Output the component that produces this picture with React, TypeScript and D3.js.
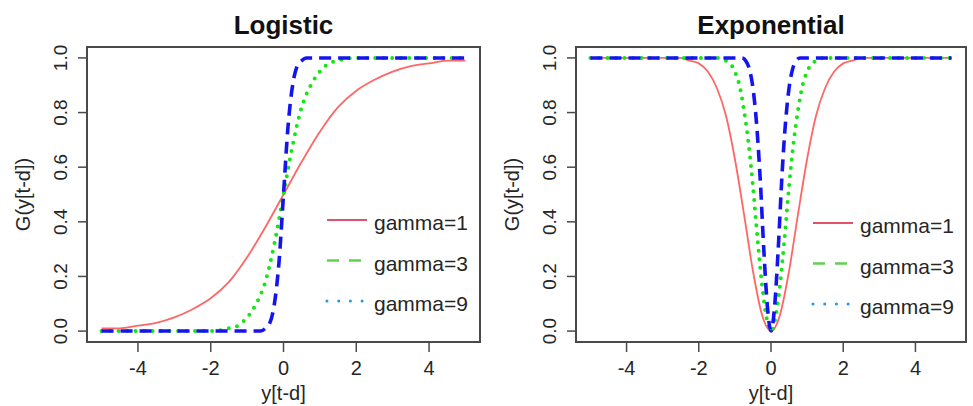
import React, { useRef, useEffect } from "react";
import * as d3 from "d3";

// values
const xTicks = [-4, -2, 0, 2, 4];
const yTicks = [0, 0.2, 0.4, 0.6, 0.8, 1.0];
const legendLabels = ["gamma=1", "gamma=3", "gamma=9"];

const logisticGamma1: [number, number][] = [
  [-5, 0.01], [-4.5, 0.01], [-4, 0.02], [-3.5, 0.03], [-3, 0.05], [-2.5, 0.08],
  [-2, 0.12], [-1.5, 0.18], [-1, 0.27], [-0.5, 0.38], [0, 0.5], [0.5, 0.62],
  [1, 0.73], [1.5, 0.82], [2, 0.88], [2.5, 0.92], [3, 0.95], [3.5, 0.97],
  [4, 0.98], [4.5, 0.99], [5, 0.99],
];
const logisticGamma3: [number, number][] = [
  [-5, 0], [-2, 0], [-1.5, 0.01], [-1.25, 0.02], [-1, 0.05], [-0.75, 0.1],
  [-0.5, 0.18], [-0.25, 0.32], [0, 0.5], [0.25, 0.68], [0.5, 0.82], [0.75, 0.9],
  [1, 0.95], [1.25, 0.98], [1.5, 0.99], [2, 1], [5, 1],
];
const logisticGamma9: [number, number][] = [
  [-5, 0], [-1, 0], [-0.625, 0], [-0.5, 0.01], [-0.375, 0.03], [-0.25, 0.1],
  [-0.125, 0.25], [0, 0.5], [0.125, 0.75], [0.25, 0.9], [0.375, 0.97],
  [0.5, 0.99], [0.625, 1], [1, 1], [5, 1],
];

const expGamma1: [number, number][] = [
  [-5, 1], [-4, 1], [-3, 1], [-2.5, 1], [-2.25, 0.99], [-2, 0.98], [-1.75, 0.95],
  [-1.5, 0.89], [-1.25, 0.79], [-1, 0.63], [-0.75, 0.43], [-0.5, 0.22],
  [-0.25, 0.06], [0, 0], [0.25, 0.06], [0.5, 0.22], [0.75, 0.43], [1, 0.63],
  [1.25, 0.79], [1.5, 0.89], [1.75, 0.95], [2, 0.98], [2.25, 0.99], [2.5, 1],
  [3, 1], [4, 1], [5, 1],
];
const expGamma3: [number, number][] = [
  [-5, 1], [-1.5, 1], [-1.25, 0.99], [-1, 0.95], [-0.875, 0.9], [-0.75, 0.81],
  [-0.625, 0.69], [-0.5, 0.53], [-0.375, 0.34], [-0.25, 0.17], [-0.125, 0.05],
  [0, 0], [0.125, 0.05], [0.25, 0.17], [0.375, 0.34], [0.5, 0.53], [0.625, 0.69],
  [0.75, 0.81], [0.875, 0.9], [1, 0.95], [1.25, 0.99], [1.5, 1], [5, 1],
];
const expGamma9: [number, number][] = [
  [-5, 1], [-0.8, 1], [-0.7, 0.99], [-0.6, 0.96], [-0.5, 0.89], [-0.4, 0.76],
  [-0.3, 0.56], [-0.2, 0.3], [-0.1, 0.09], [0, 0], [0.1, 0.09], [0.2, 0.3],
  [0.3, 0.56], [0.4, 0.76], [0.5, 0.89], [0.6, 0.96], [0.7, 0.99], [0.8, 1],
  [5, 1],
];

const FONT = "'Liberation Sans', Arial, sans-serif";
const INK = "#262626";

// curve styles (the plot uses other styles than its own legend)
const curveStyles = [
  { color: "#ff6666", width: 1.8, dash: null, cap: "butt" },
  { color: "#14e614", width: 4, dash: "0 8.5", cap: "round" },
  { color: "#1414f0", width: 3.6, dash: "12 7", cap: "butt" },
];
const legendStyles = [
  { color: "#df536b", width: 2.2, dash: null, cap: "butt" },
  { color: "#61d04f", width: 2.6, dash: "12 10", cap: "butt" },
  { color: "#2297e6", width: 3, dash: "0 11.7", cap: "round" },
];

function drawPanel(svg, title, series, box, legendTop) {
  const x = d3.scaleLinear().domain([-5.4, 5.4]).range([box.left, box.right]);
  const y = d3.scaleLinear().domain([-0.04, 1.04]).range([box.bottom, box.top]);
  const g = svg.append("g");
  const cx = (box.left + box.right) / 2;

  const line = d3.line<[number, number]>()
    .x(d => x(d[0]))
    .y(d => y(d[1]))
    .curve(d3.curveMonotoneX);

  series.forEach((s, i) => {
    const st = curveStyles[i];
    g.append("path")
      .attr("d", line(s))
      .attr("fill", "none")
      .attr("stroke", st.color)
      .attr("stroke-width", st.width)
      .attr("stroke-linecap", st.cap)
      .attr("stroke-dasharray", st.dash);
  });

  // box
  g.append("rect")
    .attr("x", box.left).attr("y", box.top)
    .attr("width", box.right - box.left).attr("height", box.bottom - box.top)
    .attr("fill", "none").attr("stroke", "#4a4a4a").attr("stroke-width", 2);

  // x axis
  g.selectAll(".xt").data(xTicks).enter().append("line")
    .attr("x1", d => x(d)).attr("x2", d => x(d))
    .attr("y1", box.bottom).attr("y2", box.bottom + 10)
    .attr("stroke", "#4a4a4a").attr("stroke-width", 1.5);
  g.selectAll(".xl").data(xTicks).enter().append("text")
    .attr("x", d => x(d)).attr("y", 375)
    .attr("text-anchor", "middle")
    .attr("font-family", FONT).attr("font-size", 20).attr("fill", INK)
    .text(d => String(d));

  // y axis
  g.selectAll(".yt").data(yTicks).enter().append("line")
    .attr("x1", box.left).attr("x2", box.left - 9)
    .attr("y1", d => y(d)).attr("y2", d => y(d))
    .attr("stroke", "#4a4a4a").attr("stroke-width", 1.5);
  g.selectAll(".yl").data(yTicks).enter().append("text")
    .attr("transform", d => `translate(${box.left - 20},${y(d)}) rotate(-90)`)
    .attr("text-anchor", "middle")
    .attr("font-family", FONT).attr("font-size", 19).attr("fill", INK)
    .text(d => d.toFixed(1));

  // titles
  g.append("text")
    .attr("x", cx).attr("y", 34)
    .attr("text-anchor", "middle")
    .attr("font-family", FONT).attr("font-size", 26).attr("font-weight", "bold")
    .attr("fill", "#111")
    .text(title);
  g.append("text")
    .attr("x", cx).attr("y", 400)
    .attr("text-anchor", "middle")
    .attr("font-family", FONT).attr("font-size", 20).attr("fill", INK)
    .text("y[t-d]");
  g.append("text")
    .attr("transform", `translate(${box.left - 57},${(box.top + box.bottom) / 2}) rotate(-90)`)
    .attr("text-anchor", "middle")
    .attr("font-family", FONT).attr("font-size", 20).attr("fill", INK)
    .text("G(y[t-d])");

  // legend, no frame
  legendLabels.forEach((label, i) => {
    const st = legendStyles[i];
    const ly = legendTop + i * 40.5;
    g.append("line")
      .attr("x1", box.right - 153).attr("x2", box.right - 113)
      .attr("y1", ly).attr("y2", ly)
      .attr("stroke", st.color).attr("stroke-width", st.width)
      .attr("stroke-linecap", st.cap)
      .attr("stroke-dasharray", st.dash);
    g.append("text")
      .attr("x", box.right - 106).attr("y", ly + 10)
      .attr("font-family", FONT).attr("font-size", 21).attr("fill", INK)
      .text(label);
  });
}

export default function App() {
  const ref = useRef<SVGSVGElement>(null);
  const width = 973;
  const height = 406;

  useEffect(() => {
    const svg = d3.select(ref.current);
    svg.selectAll("*").remove();
    svg.append("rect").attr("width", width).attr("height", height).attr("fill", "#fff");
    drawPanel(svg, "Logistic", [logisticGamma1, logisticGamma3, logisticGamma9],
      { left: 87, right: 480, top: 47, bottom: 342 }, 220);
    drawPanel(svg, "Exponential", [expGamma1, expGamma3, expGamma9],
      { left: 576, right: 966, top: 47, bottom: 342 }, 223);
  }, []);

  return (
    <svg
      ref={ref}
      width={width}
      height={height}
      style={{ position: "absolute", left: 0, top: 0 }}
    />
  );
}
